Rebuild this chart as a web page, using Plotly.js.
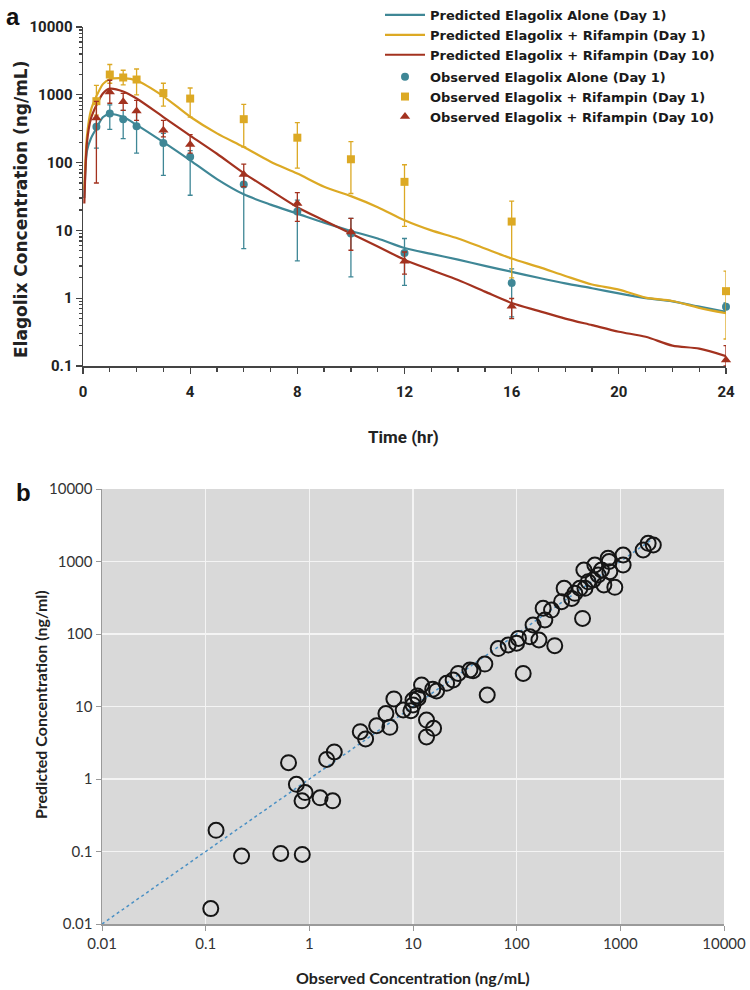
<!DOCTYPE html>
<html>
<head>
<meta charset="utf-8">
<script src="https://cdn.plot.ly/plotly-3.0.1.min.js"></script>
<style>html,body{margin:0;padding:0;background:#fff;}#chart{width:750px;height:990px;}</style>
</head>
<body>
<div id="chart"></div>
<script>
// ---------- Panel a data ----------
const tPred = [0.05, 0.15, 0.3, 0.5, 0.75, 1, 1.5, 2, 3, 4, 5, 6, 7, 8, 9, 10, 11, 12, 13, 14, 15, 16, 17, 18, 19, 20, 21, 22, 23, 24];
const predAlone = [30, 150, 230, 320, 470, 520, 470, 360, 200, 108, 57, 34, 24, 17.7, 13, 9.8, 7.6, 5.5, 4.5, 3.7, 3.0, 2.45, 2.0, 1.65, 1.4, 1.18, 1.0, 0.9, 0.75, 0.63];
const predRifD1 = [40, 250, 600, 950, 1450, 1700, 1760, 1620, 950, 475, 270, 170, 103, 69, 44, 32, 22, 14.1, 10, 7.6, 5.4, 3.85, 2.9, 2.13, 1.59, 1.34, 1.02, 0.91, 0.72, 0.6];
const predRifD10 = [25, 200, 450, 700, 1050, 1230, 1120, 880, 470, 250, 135, 70, 39, 22, 14, 9, 5.8, 3.7, 2.6, 1.85, 1.25, 0.85, 0.65, 0.5, 0.4, 0.32, 0.27, 0.2, 0.18, 0.14];

const tObs = [0.5, 1, 1.5, 2, 3, 4, 6, 8, 10, 12, 16, 24];
const obsAlone = [337, 530, 437, 345, 195, 122, 47.5, 19, 9, 4.65, 1.68, 0.745];
const obsAloneHi = [450, 710, 590, 560, 270, 150, 67, 28, 15, 7.6, 2.7, 0.85];
const obsAloneLo = [163, 310, 226, 138, 65, 33, 5.4, 3.55, 2.06, 1.55, 0.53, 0.65];
const obsRifD1 = [805, 1990, 1800, 1680, 1060, 880, 437, 233, 112, 52, 13.5, 1.27];
const obsRifD1Hi = [1380, 2800, 2300, 2400, 1480, 1260, 720, 390, 204, 93, 27, 2.5];
const obsRifD1Lo = [500, 1480, 1400, 1000, 680, 470, 170, 83, 35, 11.5, 2.0, 0.25];
const obsRifD10 = [455, 1100, 790, 575, 300, 185, 67, 25, 9.5, 3.5, 0.76, 0.123];
const obsRifD10Hi = [800, 1640, 1050, 830, 420, 258, 95, 36, 15, 4.8, 0.99, 0.2];
const obsRifD10Lo = [50, 750, 590, 420, 240, 138, 44, 13.6, 5.1, 2.26, 0.5, 0.1];

const xTicksA = [0, 4, 8, 12, 16, 20, 24];

// ---------- Panel b data ----------
const observedConc = [0.112, 0.126, 0.222, 0.53, 0.855, 0.63, 0.75, 0.91, 0.85, 1.27, 1.68, 1.47, 1.74, 3.1, 3.49, 4.46, 5.98, 5.48, 6.54, 8.05, 9.55, 10.0, 10.0, 11.0, 11.2, 12.1, 13.5, 15.8, 13.5, 15.5, 16.9, 21.1, 24.4, 27.3, 35.4, 38.0, 49.3, 52, 66.4, 82.9, 99.8, 104, 115.6, 134, 144, 164, 180, 187, 217, 233, 271, 287, 339, 364, 407, 432, 445, 456, 490, 547, 568, 611, 658, 693, 762, 792, 780, 885, 1064, 1064, 1660, 1855, 2080];
const predictedConc = [0.0163, 0.196, 0.0865, 0.094, 0.091, 1.68, 0.845, 0.65, 0.50, 0.55, 0.50, 1.86, 2.36, 4.49, 3.56, 5.43, 5.16, 8.0, 12.7, 8.95, 8.75, 10.5, 12.3, 14.0, 13.0, 19.8, 6.5, 5.0, 3.8, 17.3, 16.4, 20.9, 23.2, 28.6, 31.9, 31.2, 38.5, 14.4, 63, 70.5, 74.5, 87, 28.6, 91.7, 133, 82.6, 226, 156, 214, 69, 279, 427, 310, 364, 427, 164, 764, 427, 525, 556, 895, 651, 764, 474, 1107, 724, 1000, 440, 1230, 895, 1442, 1783, 1690];
const identityLine = [0.01, 2100];
const ticksB = [0.01, 0.1, 1, 10, 100, 1000, 10000];

// ---------- styles ----------
const cTeal = '#3f8796', cGold = '#dca924', cRed = '#a3321f';
const narrow = 'Liberation Sans Narrow, Arial Narrow, Roboto, sans-serif';
const calib = 'Lato, Open Sans, sans-serif';

function errBar(hi, lo, vals, col) {
  return {type: 'data', symmetric: false,
    array: hi.map((h, i) => h - vals[i]),
    arrayminus: lo.map((l, i) => vals[i] - l),
    color: col, thickness: 1.3, width: 2.5};
}

const lineStyle = col => ({color: col, width: 2.2, shape: 'spline', smoothing: 0.8});

const traces = [
  {x: tPred, y: predAlone, type: 'scatter', mode: 'lines', name: 'Predicted Elagolix Alone (Day 1)', line: lineStyle(cTeal), legendgroup: 'p', xaxis: 'x', yaxis: 'y'},
  {x: tPred, y: predRifD1, type: 'scatter', mode: 'lines', name: 'Predicted Elagolix + Rifampin (Day 1)', line: lineStyle(cGold), legendgroup: 'p', xaxis: 'x', yaxis: 'y'},
  {x: tPred, y: predRifD10, type: 'scatter', mode: 'lines', name: 'Predicted Elagolix + Rifampin (Day 10)', line: lineStyle(cRed), legendgroup: 'p', xaxis: 'x', yaxis: 'y'},
  {x: tObs, y: obsAlone, type: 'scatter', mode: 'markers', name: 'Observed Elagolix Alone (Day 1)', marker: {color: cTeal, symbol: 'circle', size: 8}, error_y: errBar(obsAloneHi, obsAloneLo, obsAlone, cTeal), legendgroup: 'o', xaxis: 'x', yaxis: 'y', cliponaxis: false},
  {x: tObs, y: obsRifD1, type: 'scatter', mode: 'markers', name: 'Observed Elagolix + Rifampin (Day 1)', marker: {color: cGold, symbol: 'square', size: 8}, error_y: errBar(obsRifD1Hi, obsRifD1Lo, obsRifD1, cGold), legendgroup: 'o', xaxis: 'x', yaxis: 'y', cliponaxis: false},
  {x: tObs, y: obsRifD10, type: 'scatter', mode: 'markers', name: 'Observed Elagolix + Rifampin (Day 10)', marker: {color: cRed, symbol: 'triangle-up', size: 9}, error_y: errBar(obsRifD10Hi, obsRifD10Lo, obsRifD10, cRed), legendgroup: 'o', xaxis: 'x', yaxis: 'y', cliponaxis: false},
  {x: identityLine, y: identityLine, type: 'scatter', mode: 'lines', showlegend: false, line: {color: '#4a90c4', width: 1.5, dash: 'dot'}, xaxis: 'x2', yaxis: 'y2', hoverinfo: 'skip'},
  {x: observedConc, y: predictedConc, type: 'scatter', mode: 'markers', showlegend: false, marker: {symbol: 'circle-open', size: 15, color: '#151515', line: {width: 2, color: '#151515'}}, xaxis: 'x2', yaxis: 'y2'}
];

const W = 750, H = 990;
const px = v => v / W, py = v => 1 - v / H;

const layout = {
  width: W, height: H,
  margin: {l: 0, r: 0, t: 0, b: 0},
  separators: '.',
  paper_bgcolor: '#ffffff', plot_bgcolor: 'rgba(0,0,0,0)',
  showlegend: true,
  legend: {x: px(380), y: py(0), xanchor: 'left', yanchor: 'top', traceorder: 'grouped', tracegroupgap: 2,
    font: {family: 'DejaVu Sans, Liberation Sans, sans-serif', size: 13, color: '#1a1a1a', weight: 'bold'}, bgcolor: 'rgba(0,0,0,0)', itemwidth: 40},
  xaxis: {domain: [px(83), px(726)], anchor: 'y', range: [0, 24], tickvals: xTicksA, ticktext: xTicksA.map(String),
    ticks: 'outside', ticklen: 6, tickwidth: 1.3, tickcolor: '#444', showline: true, linecolor: '#444', linewidth: 1.5,
    showgrid: false, zeroline: false, ticklabelstandoff: 5,
    minor: {dtick: 1, tick0: 0, ticks: 'outside', ticklen: 4, tickcolor: '#444', showgrid: false},
    tickfont: {family: narrow, size: 15, color: '#222', weight: 'bold'}},
  yaxis: {domain: [py(366), py(27)], anchor: 'x', type: 'log', range: [-1, 4], tickmode: 'linear', tick0: 0, dtick: 1, exponentformat: 'none', separatethousands: false,
    ticks: 'outside', ticklen: 6, tickwidth: 1.3, tickcolor: '#444', showline: true, linecolor: '#444', linewidth: 1.5,
    showgrid: false, zeroline: false,
    minor: {dtick: 'D1', ticks: 'outside', ticklen: 3, tickcolor: '#444', showgrid: false},
    tickfont: {family: narrow, size: 15, color: '#222', weight: 'bold'}},
  xaxis2: {domain: [px(102), px(724)], anchor: 'y2', type: 'log', range: [-2, 4], tickvals: ticksB, ticktext: ['0.01', '0.1', '1', '10', '100', '1000', '10000'],
    ticks: 'outside', ticklen: 5, tickcolor: '#999', showline: true, linecolor: '#9a9a9a', linewidth: 1.5,
    showgrid: true, gridcolor: '#f4f4f4', gridwidth: 1.6, zeroline: false,
    tickfont: {family: calib, size: 15, color: '#333'}},
  yaxis2: {domain: [py(924), py(489)], anchor: 'x2', type: 'log', range: [-2, 4], tickvals: ticksB, ticktext: ['0.01', '0.1', '1', '10', '100', '1000', '10000'],
    ticks: 'outside', ticklen: 5, tickcolor: '#999', showline: true, linecolor: '#9a9a9a', linewidth: 1.5,
    showgrid: true, gridcolor: '#f4f4f4', gridwidth: 1.6, zeroline: false,
    tickfont: {family: calib, size: 15, color: '#333'}},
  shapes: [
    {type: 'rect', xref: 'x2 domain', yref: 'y2 domain', x0: 0, x1: 1, y0: 0, y1: 1, fillcolor: '#d9d9d9', line: {width: 0}, layer: 'below'}
  ],
  annotations: [
    {text: 'a', xref: 'paper', yref: 'paper', x: px(4), y: py(1), xanchor: 'left', yanchor: 'top', showarrow: false, font: {family: 'Liberation Sans, Arial, sans-serif', size: 24, color: '#111', weight: 'bold'}},
    {text: 'b', xref: 'paper', yref: 'paper', x: px(14), y: py(477), xanchor: 'left', yanchor: 'top', showarrow: false, font: {family: 'Liberation Sans, Arial, sans-serif', size: 24, color: '#111', weight: 'bold'}},
    {text: 'Elagolix Concentration (ng/mL)', xref: 'paper', yref: 'paper', x: px(21), y: py(210), textangle: -90, showarrow: false, xanchor: 'center', yanchor: 'middle', font: {family: 'DejaVu Sans, Liberation Sans, sans-serif', size: 17, color: '#222', weight: 'bold'}},
    {text: 'Time (hr)', xref: 'paper', yref: 'paper', x: px(404), y: py(437), showarrow: false, xanchor: 'center', yanchor: 'middle', font: {family: narrow, size: 17, color: '#222', weight: 'bold'}},
    {text: 'Predicted Concentration (ng/ml)', xref: 'paper', yref: 'paper', x: px(40), y: py(705), textangle: -90, showarrow: false, xanchor: 'center', yanchor: 'middle', font: {family: calib, size: 16, color: '#222', weight: 'bold'}},
    {text: 'Observed Concentration (ng/mL)', xref: 'paper', yref: 'paper', x: px(413), y: py(977), showarrow: false, xanchor: 'center', yanchor: 'middle', font: {family: calib, size: 16, color: '#222', weight: 'bold'}}
  ]
};

Plotly.newPlot('chart', traces, layout, {displayModeBar: false, staticPlot: true});
</script>
</body>
</html>
